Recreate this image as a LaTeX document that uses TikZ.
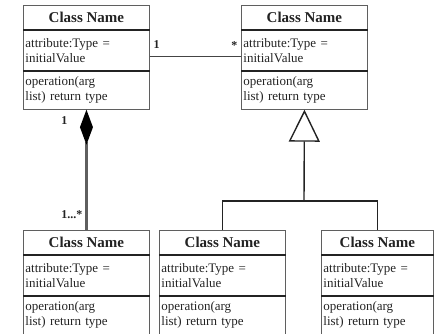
\documentclass[tikz,border=0pt]{standalone}
\usepackage{fontspec}
\setmainfont{Liberation Serif}
\usetikzlibrary{arrows.meta, positioning}
\definecolor{umlInk}{RGB}{35,35,35}
\definecolor{umlEdge}{RGB}{95,95,95}

\begin{document}
\begin{tikzpicture}[x=1pt, y=-1pt,
    head/.style={draw=umlEdge, line width=0.9pt, anchor=north west, minimum height=24pt, inner sep=0pt,
    font=\fontsize{15}{17}\selectfont\bfseries, text=umlInk},
    attr/.style={draw=umlEdge, line width=0.9pt, anchor=north west, minimum height=40pt, inner xsep=2pt, inner ysep=0pt,
    align=left, font=\fontsize{13}{15}\selectfont, text=umlInk},
    oper/.style={attr, minimum height=38pt},
    sep/.style={draw=umlInk, line width=1.8pt},
    mult/.style={font=\fontsize{12}{14}\selectfont\bfseries, text=umlInk, inner sep=0pt},
    assoc/.style={draw=umlInk!85, line width=1.5pt},
    comp/.style={draw=umlEdge, line width=2.2pt, -{Diamond[length=35pt, width=13pt, color=black]}},
    gen/.style={draw=umlInk, line width=1.4pt}
  ]
  \useasboundingbox (0,0) rectangle (434,334);

  \foreach \n/\x/\y/\w in {tl/23/5/126, tr/241/5/126, bl/23/230/126, bm/159/230/126, br/321/230/112} {
    \pgfmathsetmacro{\tw}{\w-4}
    \node[head, minimum width=\w pt] (\n-h) at (\x,\y) {Class Name};
    \node[attr, text width=\tw pt] (\n-a) at (\n-h.south west) {attribute:Type =\\initialValue};
    \node[oper, text width=\tw pt] (\n-o) at (\n-a.south west) {operation(arg\\list) return type};
    \draw[sep] (\n-h.south west) -- (\n-h.south east);
    \draw[sep] (\n-a.south west) -- (\n-a.south east);
  }

  \draw[assoc] ([yshift=-6pt]tl-a.east) -- ([yshift=-6pt]tr-a.west)
    node[mult, pos=0, anchor=south west, xshift=3pt, yshift=7pt] {1}
    node[mult, pos=1, anchor=south east, xshift=-3pt, yshift=6pt] {*};

  \draw[comp] (bl-h.north) -- (tl-o.south)
    node[mult, pos=0, anchor=south east, xshift=-3pt, yshift=10pt] {1...*}
    node[mult, pos=1, anchor=north east, xshift=-18pt, yshift=-6pt] {1};

  \coordinate (bus) at (304,201);
  \draw[gen] (bm-h.north) |- (bus) -| (br-h.north);
  \draw[gen, -{Triangle[open, length=32pt, width=31pt, fill=white]}] (bus) -- (tr-o.south);
\end{tikzpicture}
\end{document}
